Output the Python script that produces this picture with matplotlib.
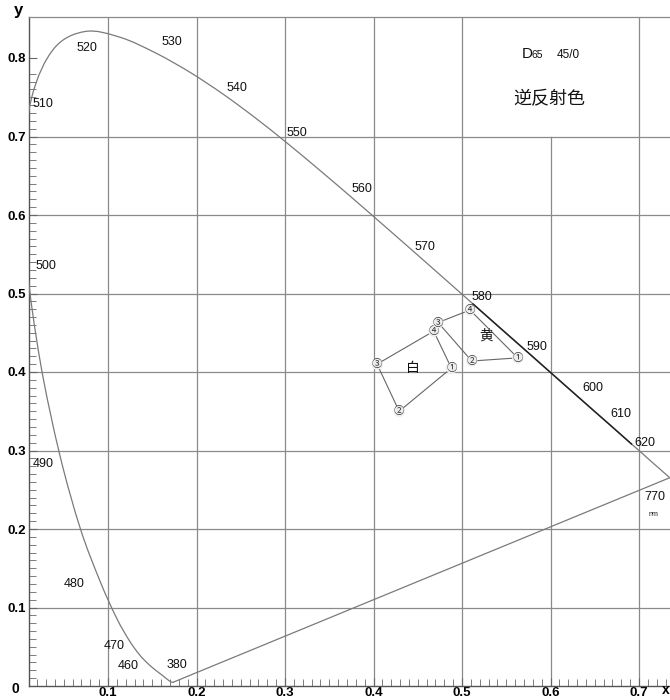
import matplotlib
matplotlib.use("Agg")
import matplotlib.pyplot as plt
from matplotlib.path import Path
from matplotlib.patches import PathPatch
import numpy as np

# ---- data -------------------------------------------------------------
# CIE 1931 spectrum locus (wavelength nm, x, y)
locus_nm = [380, 390, 400, 410, 420, 425, 430, 435, 440, 445, 450, 455, 460, 465,
            470, 475, 480, 485, 490, 495, 500, 505, 510, 515, 520, 525, 530, 535,
            540, 545, 550, 555, 560, 565, 570, 575, 580, 585, 590, 595, 600, 605,
            610, 615, 620, 625, 630, 635, 640, 645, 650, 660, 670, 680, 690, 770]
locus_x = [0.1741, 0.1738, 0.1733, 0.1726, 0.1714, 0.1703, 0.1689, 0.1669, 0.1644,
           0.1611, 0.1566, 0.1510, 0.1440, 0.1355, 0.1241, 0.1096, 0.0913, 0.0687,
           0.0454, 0.0235, 0.0082, 0.0039, 0.0139, 0.0389, 0.0743, 0.1142, 0.1547,
           0.1929, 0.2296, 0.2658, 0.3016, 0.3373, 0.3731, 0.4087, 0.4441, 0.4788,
           0.5125, 0.5448, 0.5752, 0.6029, 0.6270, 0.6482, 0.6658, 0.6801, 0.6915,
           0.7006, 0.7079, 0.7140, 0.7190, 0.7230, 0.7260, 0.7300, 0.7320, 0.7334,
           0.7344, 0.7347]
locus_y = [0.0050, 0.0049, 0.0048, 0.0048, 0.0051, 0.0058, 0.0069, 0.0086, 0.0109,
           0.0138, 0.0177, 0.0227, 0.0297, 0.0399, 0.0578, 0.0868, 0.1327, 0.2007,
           0.2950, 0.4127, 0.5384, 0.6548, 0.7502, 0.8120, 0.8338, 0.8262, 0.8059,
           0.7816, 0.7543, 0.7243, 0.6923, 0.6589, 0.6245, 0.5896, 0.5547, 0.5202,
           0.4866, 0.4544, 0.4242, 0.3965, 0.3725, 0.3514, 0.3340, 0.3197, 0.3083,
           0.2993, 0.2920, 0.2859, 0.2809, 0.2770, 0.2740, 0.2700, 0.2680, 0.2666,
           0.2656, 0.2653]

# wavelength labels and their positions
wl_labels = ["380", "460", "470", "480", "490", "500", "510", "520", "530", "540",
             "550", "560", "570", "580", "590", "600", "610", "620", "770"]
wl_lx = [0.178, 0.123, 0.107, 0.062, 0.027, 0.030, 0.027, 0.076, 0.172, 0.246,
         0.313, 0.387, 0.458, 0.523, 0.585, 0.648, 0.679, 0.707, 0.718]
wl_ly = [0.027, 0.025, 0.051, 0.130, 0.283, 0.535, 0.742, 0.813, 0.821, 0.762,
         0.705, 0.633, 0.559, 0.496, 0.432, 0.379, 0.346, 0.310, 0.241]

# measured chromaticities, points 1..4
white_x = [0.488, 0.429, 0.404, 0.468]
white_y = [0.405, 0.350, 0.410, 0.452]
yellow_x = [0.563, 0.511, 0.473, 0.509]
yellow_y = [0.418, 0.414, 0.463, 0.479]
point_names = ["①", "②", "③", "④"]

x_ticks = [0.1, 0.2, 0.3, 0.4, 0.5, 0.6, 0.7]
y_ticks = [0.1, 0.2, 0.3, 0.4, 0.5, 0.6, 0.7, 0.8]

# ---- figure -----------------------------------------------------------
W, H = 670, 700
fig = plt.figure(figsize=(W / 100, H / 100), dpi=100)
fig.patch.set_facecolor("white")

px0, px1 = 29, 680       # pixel columns of the axes
py_top, py_bot = 17, 686  # pixel rows of the axes
x_at0, x_per = 19.5, 885.0
y_per = 785.0
xmin = (px0 - x_at0) / x_per
xmax = (px1 - x_at0) / x_per
ymax = (py_bot - py_top) / y_per

ax = fig.add_axes([px0 / W, (H - py_bot) / H, (px1 - px0) / W, (py_bot - py_top) / H])
ax.set_xlim(xmin, xmax)
ax.set_ylim(0, ymax)

narrow = ["Liberation Sans Narrow", "Liberation Sans", "DejaVu Sans"]
cjk = ["Noto Sans CJK SC", "DejaVu Sans"]

grid_c = "#8a8a8a"
for xv in x_ticks:
    top = 0.7 if abs(xv - 0.6) < 1e-9 else ymax
    ax.plot([xv, xv], [0, top], color=grid_c, lw=0.9, zorder=1)
for yv in y_ticks:
    if yv > 0.75:
        continue
    ax.plot([xmin, xmax], [yv, yv], color=grid_c, lw=0.9, zorder=1)


def smooth_path(xs, ys):
    """Smooth cubic (Catmull-Rom style) path through the given points."""
    P = np.column_stack([xs, ys])
    n = len(P)
    verts = [P[0]]
    codes = [Path.MOVETO]
    for i in range(n - 1):
        p0 = P[max(i - 1, 0)]
        p1 = P[i]
        p2 = P[i + 1]
        p3 = P[min(i + 2, n - 1)]
        c1 = p1 + (p2 - p0) / 6.0
        c2 = p2 - (p3 - p1) / 6.0
        verts += [c1, c2, p2]
        codes += [Path.CURVE4] * 3
    return Path(np.array(verts), codes)


# spectrum locus + purple line
lx = np.array(locus_x)
ly = np.array(locus_y)
ax.add_patch(PathPatch(smooth_path(lx, ly), fc="none", ec="#7a7a7a", lw=0.9, zorder=3))
ax.plot([lx[-1], lx[0]], [ly[-1], ly[0]], color="#7a7a7a", lw=0.9, zorder=3)
nm = np.array(locus_nm)
seg = (nm >= 578) & (nm <= 622)
ax.plot(lx[seg], ly[seg], color="#222222", lw=1.1, zorder=3)

for t, x, y in zip(wl_labels, wl_lx, wl_ly):
    ax.text(x, y, t, fontsize=9, family=narrow, ha="center", va="center", color="#111111", zorder=5)
ax.text(0.716, 0.218, "nm", fontsize=5, family=narrow, ha="center", va="center", color="#111111")

# quadrilaterals
for xs, ys in ((white_x, white_y), (yellow_x, yellow_y)):
    ax.plot(xs + [xs[0]], ys + [ys[0]], color="#666666", lw=0.8, zorder=4)
    for name, x, y in zip(point_names, xs, ys):
        ax.text(x, y, name, fontsize=7.5, family=cjk, ha="center", va="center",
                color="#333333", zorder=6,
                bbox=dict(boxstyle="circle,pad=0.05", fc="#eeeeee", ec="none"))

ax.text(0.445, 0.405, "白", fontsize=10, family=cjk, ha="center", va="center", color="#111111")
ax.text(0.527, 0.447, "黄", fontsize=10, family=cjk, ha="center", va="center", color="#111111")

# header texts
ax.text(0.568, 0.800, "D", fontsize=11, family=narrow, ha="left", va="baseline", color="#111111")
ax.text(0.579, 0.800, "65", fontsize=7.5, family=narrow, ha="left", va="baseline", color="#111111")
ax.text(0.620, 0.800, "45/0", fontsize=8.5, family=narrow, ha="center", va="baseline", color="#111111")
ax.text(0.599, 0.747, "逆反射色", fontsize=13, family=cjk, ha="center", va="center", color="#111111")

# axes styling
ax.spines["right"].set_visible(False)
ax.spines["top"].set_color(grid_c)
ax.spines["top"].set_linewidth(0.9)
ax.spines["left"].set_color("#555555")
ax.spines["bottom"].set_color("#555555")
ax.spines["left"].set_linewidth(1.0)
ax.spines["bottom"].set_linewidth(1.0)

ax.set_xticks(x_ticks)
ax.set_xticklabels([f"{v:.1f}" for v in x_ticks])
ax.set_yticks(y_ticks)
ax.set_yticklabels([f"{v:.1f}" for v in y_ticks])
ax.set_xticks(np.arange(0.02, 0.745, 0.01), minor=True)
ax.set_yticks(np.arange(0.01, 0.785, 0.01), minor=True)
ax.tick_params(which="both", direction="in", color="#666666")
ax.tick_params(which="major", length=6, width=0.8)
ax.tick_params(which="minor", length=5, width=0.6)
ax.tick_params(axis="x", which="major", pad=1)
ax.tick_params(axis="y", which="major", pad=2)
for lab in ax.get_xticklabels() + ax.get_yticklabels():
    lab.set_family(narrow)
    lab.set_fontsize(9.5)
    lab.set_fontweight("bold")

fig.text(15 / W, 1 - 689 / H, "0", fontsize=10, fontweight="bold", family=narrow,
         ha="center", va="center")
fig.text(18 / W, 1 - 10 / H, "y", fontsize=12, fontweight="bold", family=narrow,
         ha="center", va="center")
fig.text(666 / W, 1 - 690 / H, "x", fontsize=10, fontweight="bold", family=narrow,
         ha="center", va="center")

fig.savefig("out.png", dpi=100, facecolor="white")
